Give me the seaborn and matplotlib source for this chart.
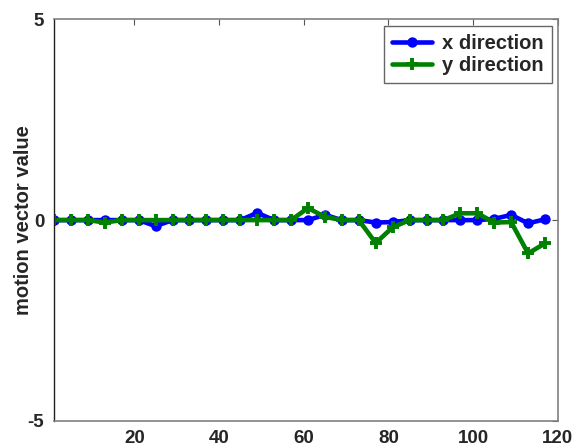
import numpy as np
import pandas as pd
import matplotlib
matplotlib.use("Agg")
import matplotlib.pyplot as plt
import seaborn as sns

# frame index of each sampled block
frames = list(range(1, 118, 4))

# motion vector components per sample
x_direction = [0, 0, 0, 0, 0, 0, -0.15, 0, 0, 0, 0, 0, 0.18, 0, 0,
               0, 0.13, 0, 0, -0.06, -0.05, 0, 0, 0, 0, 0, 0.03, 0.13, -0.08, 0.02]
y_direction = [0, 0, 0, -0.06, 0, 0, 0, 0, 0, 0, 0, 0, 0, 0, 0,
               0.3, 0.08, 0, 0, -0.57, -0.18, 0, 0, 0, 0.17, 0.17, -0.06, -0.05, -0.83, -0.58]

series_names = ["x direction", "y direction"]
series_colors = ["#0000ff", "#008000"]
series_markers = ["o", "+"]
yticks = [-5, 0, 5]
xticks = [20, 40, 60, 80, 100, 120]

sns.set_style("white")
plt.rcParams["font.family"] = ["Liberation Sans", "DejaVu Sans"]
plt.rcParams["font.weight"] = "bold"
plt.rcParams["axes.unicode_minus"] = False

df = pd.DataFrame({
    "frame": frames * 2,
    "value": x_direction + y_direction,
    "series": [series_names[0]] * len(frames) + [series_names[1]] * len(frames),
})

fig = plt.figure(figsize=(5.77, 4.48), dpi=100)
ax = fig.add_axes([0.0936, 0.0609, 0.873, 0.8956])

for name, color, mk in zip(series_names, series_colors, series_markers):
    sns.lineplot(data=df[df.series == name], x="frame", y="value",
                 color=color, marker=mk, label=name, ax=ax)

# solid thick lines with MATLAB-like markers
for line, mk in zip(ax.lines, series_markers):
    line.set_linestyle("-")
    line.set_linewidth(3.3)
    if mk == "o":
        line.set_markersize(7.5)
        line.set_markeredgewidth(0)
    else:
        line.set_markersize(9)
        line.set_markeredgewidth(2.8)
        line.set_markeredgecolor(line.get_color())

ax.set_xlim(1, 120)
ax.set_ylim(-5, 5)
ax.set_xticks(xticks)
ax.set_yticks(yticks)
ax.set_xlabel("")
ax.set_ylabel("motion vector value", fontsize=14.5, fontweight="bold")
ax.yaxis.set_label_coords(-0.042, 0.5)
ax.tick_params(axis="both", direction="in", length=4, width=0.8, color="#555555",
               labelsize=13.5, top=True, right=True, pad=7)
for lab in ax.get_xticklabels() + ax.get_yticklabels():
    lab.set_fontweight("bold")

for side in ["top", "right", "bottom"]:
    ax.spines[side].set_color("#808080")
    ax.spines[side].set_linewidth(1.2)
ax.spines["left"].set_color("#202020")
ax.spines["left"].set_linewidth(1.0)

leg = ax.legend(loc="upper right", frameon=True, fancybox=False,
                handlelength=2.0, handletextpad=0.5, labelspacing=0.15,
                borderpad=0.4, borderaxespad=0.3,
                prop={"weight": "bold", "size": 14.5})
leg.get_frame().set_edgecolor("#404040")
leg.get_frame().set_linewidth(1.0)
for h in leg.legend_handles:
    h.set_linestyle("-")
    h.set_linewidth(3.3)

fig.savefig("out.png", dpi=100)
